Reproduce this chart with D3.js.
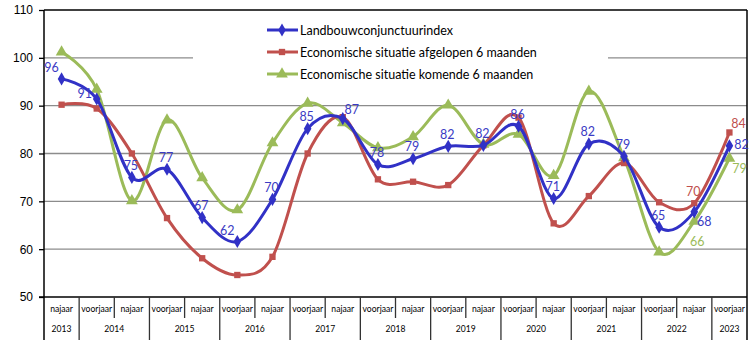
<!DOCTYPE html>
<html><head><meta charset="utf-8">
<script src="https://cdn.jsdelivr.net/npm/d3@7"></script>
<style>body{margin:0;background:#fff}svg{display:block}</style>
</head><body>
<svg id="c" width="750" height="345"></svg>
<script>
const seasons = ["najaar","voorjaar","najaar","voorjaar","najaar","voorjaar","najaar","voorjaar","najaar","voorjaar","najaar","voorjaar","najaar","voorjaar","najaar","voorjaar","najaar","voorjaar","najaar","voorjaar"];
const years = [2013,2014,2014,2015,2015,2016,2016,2017,2017,2018,2018,2019,2019,2020,2020,2021,2021,2022,2022,2023];
const yTicks = [50,60,70,80,90,100,110];
const seriesNames = ["Landbouwconjunctuurindex","Economische situatie afgelopen 6 maanden","Economische situatie komende 6 maanden"];
const landbouw = [95.6,91.4,75.0,76.7,66.6,61.6,70.4,85.2,87.3,77.7,78.9,81.5,81.7,85.7,70.6,82.0,79.4,64.6,67.8,81.6];
const afgelopen = [90.2,89.4,80.0,66.5,58.1,54.6,58.4,80.0,87.6,74.6,74.1,73.4,81.7,87.5,65.4,71.1,78.0,69.8,69.6,84.4];
const komende = [101.2,93.4,70.1,87.0,74.9,68.2,82.2,90.5,86.4,81.2,83.5,90.1,81.9,84.0,75.4,93.0,79.1,59.4,65.8,79.0];
// label placement codes per point (null = no label)
const landbouwLabels = ["al","l","a","a","a","al","a","a","ar","a","a","a","a","a","a","a","a","a","rb","r"];
const afgelopenLabels = [null,null,null,null,null,null,null,null,null,null,null,null,null,null,null,null,null,null,"a","ar"];
const komendeLabels = [null,null,null,null,null,null,null,null,null,null,null,null,null,null,null,null,null,null,"b","rb"];

const svg = d3.select("#c");
const L = 44, R = 747, T = 10, B = 297;
const x = d3.scaleBand().domain(d3.range(seasons.length)).range([L, R]);
const y = d3.scaleLinear().domain([50, 110]).range([B, T]);
const cx = i => x(i) + x.bandwidth() / 2;

// gridlines
const grid = svg.append("g");
yTicks.filter(v => v > 50 && v < 110).forEach(v => {
  grid.append("line").attr("x1", L).attr("x2", R).attr("y1", y(v)).attr("y2", y(v))
    .attr("stroke", "#8c8c8c").attr("stroke-width", 1.3);
});
// legend box (covers gridline)
svg.append("rect").attr("x", 193).attr("y", 16).attr("width", 415).attr("height", 74).attr("fill", "#fff");

// y axis
const yAxis = svg.append("g").attr("transform", `translate(${L},0)`)
  .call(d3.axisLeft(y).tickValues(yTicks).tickSize(5).tickPadding(6));
yAxis.select(".domain").remove();
yAxis.selectAll("line").attr("stroke", "#000").attr("stroke-width", 1.3);
yAxis.selectAll("text").attr("font-family", "Liberation Sans, Arial, sans-serif").attr("font-size", 12).attr("fill", "#000");

// frame
svg.append("line").attr("x1", L).attr("x2", L).attr("y1", T).attr("y2", 340).attr("stroke", "#000").attr("stroke-width", 1.5);
svg.append("line").attr("x1", R).attr("x2", R).attr("y1", T).attr("y2", 340).attr("stroke", "#000").attr("stroke-width", 1.5);
svg.append("line").attr("x1", L).attr("x2", R).attr("y1", T).attr("y2", T).attr("stroke", "#000").attr("stroke-width", 1.5);
svg.append("line").attr("x1", L - 5).attr("x2", R).attr("y1", B).attr("y2", B).attr("stroke", "#000").attr("stroke-width", 1.5);

// category axis: ticks between categories
const cat = svg.append("g");
for (let i = 1; i < seasons.length; i++) {
  const xx = x(i);
  const yearBoundary = years[i] !== years[i - 1];
  cat.append("line").attr("x1", xx).attr("x2", xx).attr("y1", B).attr("y2", yearBoundary ? 340 : 318)
    .attr("stroke", "#333").attr("stroke-width", 1.3);
}
cat.selectAll("text.s").data(seasons).join("text").attr("class", "s")
  .attr("x", (d, i) => cx(i)).attr("y", 309).attr("text-anchor", "middle").attr("dominant-baseline", "central")
  .attr("font-family", "Lato, sans-serif").attr("font-size", 8.6).attr("fill", "#000").text(d => d);
const yearGroups = d3.groups(years.map((yv, i) => ({yv, i})), d => d.yv);
cat.selectAll("text.y").data(yearGroups).join("text").attr("class", "y")
  .attr("x", d => (x(d[1][0].i) + x(d[1][d[1].length - 1].i) + x.bandwidth()) / 2).attr("y", 329)
  .attr("text-anchor", "middle").attr("dominant-baseline", "central")
  .attr("font-family", "Lato, sans-serif").attr("font-size", 8.6).attr("fill", "#000").text(d => d[0]);

// series
const colors = ["#3131C6", "#C0504D", "#9BBB59"];
const labelColors = ["#3b3bc4", "#C0504D", "#9BBB59"];
const symbols = [d3.symbolDiamond, d3.symbolSquare, d3.symbolTriangle];
const symSizes = [50, 40, 60];
const allSeries = [landbouw, afgelopen, komende];
const allLabels = [landbouwLabels, afgelopenLabels, komendeLabels];
const offsets = {a: [-1, -12], al: [-10, -11], l: [-12, -5], ar: [9, -9], rb: [10, 10], r: [12, -1], b: [3, 20]};
const line = d3.line().x((d, i) => cx(i)).y(d => y(d)).curve(d3.curveCatmullRom.alpha(0));

// draw order: green, red, blue (blue on top)
[2, 1, 0].forEach(k => {
  const g = svg.append("g");
  g.append("path").datum(allSeries[k]).attr("d", line).attr("fill", "none")
    .attr("stroke", colors[k]).attr("stroke-width", 3);
  g.selectAll("path.m").data(allSeries[k]).join("path").attr("class", "m")
    .attr("transform", (d, i) => `translate(${cx(i)},${y(d)})`)
    .attr("d", d3.symbol().type(symbols[k]).size(symSizes[k])).attr("fill", colors[k]);
});
[2, 1, 0].forEach(k => {
  svg.append("g").selectAll("text").data(allSeries[k].map((v, i) => ({v, i, p: allLabels[k][i]})).filter(d => d.p))
    .join("text").attr("x", d => cx(d.i) + offsets[d.p][0]).attr("y", d => y(d.v) + offsets[d.p][1])
    .attr("text-anchor", "middle").attr("dominant-baseline", "central")
    .attr("font-family", "Lato, sans-serif").attr("font-size", 12.5).attr("fill", labelColors[k])
    .text(d => d3.format(".0f")(d.v));
});

// legend
const lg = svg.append("g");
seriesNames.forEach((n, k) => {
  const yy = 30 + k * 22;
  lg.append("line").attr("x1", 267).attr("x2", 298).attr("y1", yy).attr("y2", yy).attr("stroke", colors[k]).attr("stroke-width", 3);
  lg.append("path").attr("transform", `translate(282,${yy})`).attr("d", d3.symbol().type(symbols[k]).size(symSizes[k])).attr("fill", colors[k]);
  lg.append("text").attr("x", 300).attr("y", yy).attr("dominant-baseline", "central")
    .attr("font-family", "Lato, sans-serif").attr("font-size", 12.5).attr("fill", "#000").text(n);
});
</script>
</body></html>
